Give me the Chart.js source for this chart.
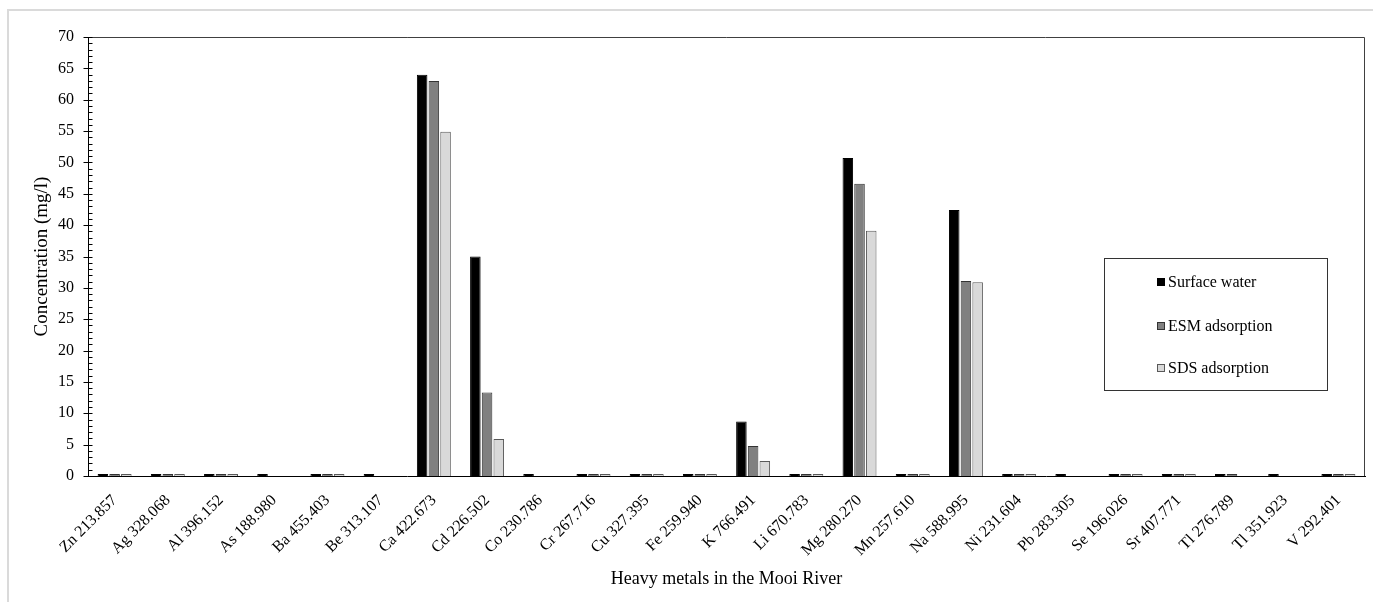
<!DOCTYPE html>
<html>
<head>
<meta charset="utf-8">
<script src="https://cdn.jsdelivr.net/npm/chart.js@4.4.1/dist/chart.umd.min.js"></script>
<style>
    html, body { margin: 0; padding: 0; background: #fff; overflow: hidden; }
    .frame { position: absolute; left: 7px; top: 9px; width: 1500px; height: 800px; border: 2px solid #dadada; }
    .wrap { position: absolute; left: 0; top: 0; width: 1373px; height: 602px; }
</style>
</head>
<body>
<div class="frame"></div>
<div class="wrap"><canvas id="chart"></canvas></div>
<script>
// Chart data
const categories = ['Zn 213.857', 'Ag 328.068', 'Al 396.152', 'As 188.980', 'Ba 455.403', 'Be 313.107',
    'Ca 422.673', 'Cd 226.502', 'Co 230.786', 'Cr 267.716', 'Cu 327.395', 'Fe 259.940',
    'K 766.491', 'Li 670.783', 'Mg 280.270', 'Mn 257.610', 'Na 588.995', 'Ni 231.604',
    'Pb 283.305', 'Se 196.026', 'Sr 407.771', 'Tl 276.789', 'Tl 351.923', 'V 292.401'];
const surfaceWater = [0.3, 0.3, 0.3, 0.3, 0.3, 0.3, 64, 35, 0.3, 0.3, 0.3, 0.3,
    8.7, 0.3, 50.7, 0.3, 42.4, 0.3, 0.3, 0.3, 0.3, 0.3, 0.3, 0.3];
const esmAdsorption = [0.3, 0.3, 0.3, null, 0.3, null, 63, 13.3, null, 0.3, 0.3, 0.3,
    4.8, 0.3, 46.6, 0.3, 31.1, 0.3, null, 0.3, 0.3, 0.3, null, 0.3];
const sdsAdsorption = [0.3, 0.3, 0.3, null, 0.3, null, 54.9, 5.9, null, 0.3, 0.3, 0.3,
    2.4, 0.3, 39.1, 0.3, 30.9, 0.3, null, 0.3, 0.3, null, null, 0.3];
const seriesNames = ['Surface water', 'ESM adsorption', 'SDS adsorption'];
const yTicks = { min: 0, max: 70, major: 5, minor: 1 };

const serif = "'Liberation Serif', 'DejaVu Serif', serif";

// frame, minor ticks and legend box
const decorPlugin = {
    id: 'decor',
    afterDraw(chart) {
        const ctx = chart.ctx;
        const area = chart.chartArea;
        const y = chart.scales.y;
        ctx.save();

        // top and right border of the plot
        ctx.strokeStyle = '#404040';
        ctx.lineWidth = 1;
        ctx.beginPath();
        ctx.moveTo(area.left, area.top + 0.5);
        ctx.lineTo(area.right - 0.5, area.top + 0.5);
        ctx.lineTo(area.right - 0.5, area.bottom);
        ctx.stroke();

        // y ticks
        ctx.strokeStyle = '#000';
        const ax = Math.round(area.left) + 0.5;
        for (let v = yTicks.min; v <= yTicks.max; v += yTicks.minor) {
            const py = Math.round(y.getPixelForValue(v)) + 0.5;
            ctx.beginPath();
            if (v % yTicks.major === 0) {
                ctx.moveTo(ax - 5, py);
            } else {
                ctx.moveTo(ax, py);
            }
            ctx.lineTo(ax + 4, py);
            ctx.stroke();
        }

        // legend
        const lx = 1104.5, ly = 258.5, lw = 223, lh = 132;
        ctx.fillStyle = '#fff';
        ctx.fillRect(lx, ly, lw, lh);
        ctx.strokeStyle = '#333';
        ctx.strokeRect(lx, ly, lw, lh);
        const rows = [282, 326, 368];
        ctx.font = '16px ' + serif;
        ctx.textBaseline = 'middle';
        chart.data.datasets.forEach((ds, i) => {
            ctx.fillStyle = ds.backgroundColor;
            ctx.fillRect(1157, rows[i] - 4, 8, 8);
            ctx.strokeStyle = ds.borderColor;
            ctx.strokeRect(1157.5, rows[i] - 3.5, 7, 7);
            ctx.fillStyle = '#000';
            ctx.fillText(ds.label, 1168, rows[i] + 1);
        });
        ctx.restore();
    }
};

function makeDataset(label, data, fill, border) {
    return {
        label: label,
        data: data,
        backgroundColor: fill,
        borderColor: border,
        borderWidth: 1,
        categoryPercentage: 0.66,
        barPercentage: 0.9
    };
}

const ctx = document.getElementById('chart').getContext('2d');
new Chart(ctx, {
    type: 'bar',
    data: {
        labels: categories,
        datasets: [
            makeDataset(seriesNames[0], surfaceWater, '#000000', '#000000'),
            makeDataset(seriesNames[1], esmAdsorption, '#808080', '#333333'),
            makeDataset(seriesNames[2], sdsAdsorption, '#d9d9d9', '#595959')
        ]
    },
    options: {
        responsive: true,
        maintainAspectRatio: false,
        animation: false,
        layout: { padding: { left: 0, top: 37, right: 8, bottom: 0 } },
        plugins: {
            legend: { display: false },
            tooltip: { enabled: false }
        },
        scales: {
            x: {
                grid: { display: false, drawTicks: false },
                border: { display: true, color: '#000', width: 1 },
                ticks: {
                    color: '#000',
                    font: { family: serif, size: 16 },
                    maxRotation: 45,
                    minRotation: 45,
                    autoSkip: false,
                    padding: 15
                },
                title: {
                    display: true,
                    text: 'Heavy metals in the Mooi River',
                    color: '#000',
                    font: { family: serif, size: 18 },
                    padding: { top: 4, bottom: 12 }
                },
                afterFit(scale) { scale.height = 126; }
            },
            y: {
                min: yTicks.min,
                max: yTicks.max,
                grid: { display: false, drawTicks: false },
                border: { display: true, color: '#000', width: 1 },
                ticks: {
                    stepSize: yTicks.major,
                    color: '#000',
                    font: { family: serif, size: 16 },
                    padding: 14
                },
                title: {
                    display: true,
                    text: 'Concentration (mg/l)',
                    color: '#000',
                    font: { family: serif, size: 19 },
                    padding: { top: 31, bottom: 0 }
                },
                afterFit(scale) { scale.width = 88; }
            }
        }
    },
    plugins: [decorPlugin]
});
</script>
</body>
</html>
